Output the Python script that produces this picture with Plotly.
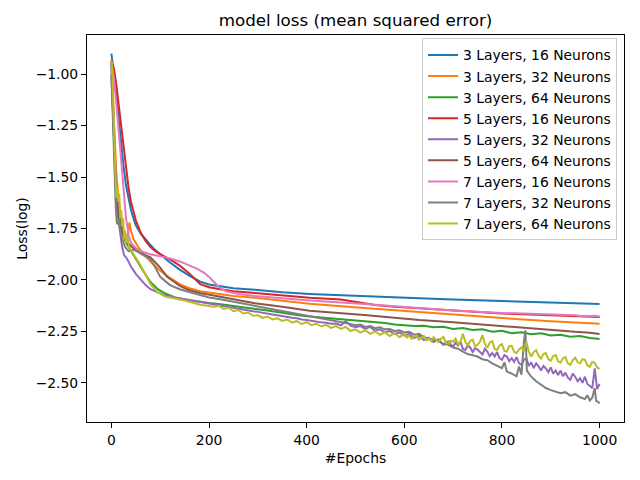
import plotly.graph_objects as go

# ---------------- data ----------------
names = ["3 Layers, 16 Neurons", "3 Layers, 32 Neurons", "3 Layers, 64 Neurons",
         "5 Layers, 16 Neurons", "5 Layers, 32 Neurons", "5 Layers, 64 Neurons",
         "7 Layers, 16 Neurons", "7 Layers, 32 Neurons", "7 Layers, 64 Neurons"]
colors = ["#1f77b4", "#ff7f0e", "#2ca02c", "#d62728", "#9467bd",
          "#8c564b", "#e377c2", "#7f7f7f", "#bcbd22"]

ep_l3n16 = [0, 5, 10, 15, 20, 25, 30, 35, 40, 45, 50, 60, 70, 80, 90, 100, 120, 140, 160,
            182, 200, 223, 250, 294, 350, 406, 518, 631, 700, 800, 900, 1000]
loss_l3n16 = [-0.90, -0.99, -1.10, -1.22, -1.34, -1.45, -1.54, -1.61, -1.66, -1.70, -1.735,
              -1.775, -1.805, -1.83, -1.855, -1.875, -1.915, -1.95, -1.98, -2.008, -2.022,
              -2.03, -2.04, -2.048, -2.06, -2.068, -2.08, -2.089, -2.095, -2.103, -2.11, -2.117]

ep_l3n32 = [0, 3, 6, 10, 15, 20, 25, 30, 34, 37, 40, 45, 55, 65, 80, 100, 120, 140, 160, 182,
            208, 250, 294, 350, 406, 518, 631, 700, 800, 900, 1000]
loss_l3n32 = [-0.93, -1.08, -1.28, -1.48, -1.62, -1.70, -1.76, -1.79, -1.78, -1.72, -1.76,
              -1.80, -1.84, -1.87, -1.91, -1.955, -1.99, -2.02, -2.04, -2.055, -2.065, -2.078,
              -2.087, -2.10, -2.115, -2.136, -2.157, -2.17, -2.185, -2.20, -2.213]

ep_l3n64 = [0, 3, 6, 9, 11, 13, 15, 17, 20, 24, 30, 40, 50, 60, 70, 80, 95, 110, 130, 150,
            182, 200, 220, 240, 260, 280, 300, 320, 340, 360, 380, 400, 420, 440, 460, 480,
            500, 520, 540, 560, 580, 600, 620, 640, 660, 680, 700, 720, 740, 760, 780, 800,
            820, 840, 860, 880, 900, 920, 940, 960, 980, 1000]
loss_l3n64 = [-0.94, -1.15, -1.40, -1.62, -1.72, -1.73, -1.68, -1.66, -1.72, -1.78, -1.82,
              -1.86, -1.90, -1.94, -1.975, -2.01, -2.045, -2.065, -2.085, -2.095, -2.107,
              -2.112, -2.117, -2.124, -2.128, -2.136, -2.142, -2.148, -2.156, -2.161, -2.170,
              -2.176, -2.180, -2.186, -2.189, -2.194, -2.198, -2.201, -2.206, -2.209, -2.216,
              -2.219, -2.224, -2.222, -2.230, -2.227, -2.238, -2.233, -2.243, -2.240, -2.252,
              -2.247, -2.259, -2.254, -2.264, -2.259, -2.270, -2.266, -2.276, -2.272, -2.282,
              -2.287]

ep_l5n16 = [0, 5, 10, 15, 20, 25, 30, 35, 40, 45, 50, 60, 70, 80, 90, 100, 120, 140, 160,
            182, 200, 223, 250, 294, 350, 406, 470, 500, 540, 580, 631, 700, 800, 900, 1000]
loss_l5n16 = [-0.94, -0.97, -1.05, -1.15, -1.27, -1.38, -1.47, -1.55, -1.62, -1.67, -1.71,
              -1.77, -1.81, -1.84, -1.86, -1.875, -1.90, -1.93, -1.97, -2.02, -2.035, -2.045,
              -2.055, -2.063, -2.075, -2.087, -2.095, -2.105, -2.122, -2.13, -2.137, -2.15,
              -2.163, -2.172, -2.18]

ep_l5n32 = ([0, 3, 6, 9, 12, 15, 18, 22, 26, 30, 35, 40, 50, 60, 70, 80, 95, 110, 130, 160,
             182] + list(range(200, 700, 10)) + list(range(700, 1001, 5)))
loss_l5n32 = [-0.95, -1.15, -1.40, -1.60, -1.70, -1.72, -1.78, -1.84, -1.88, -1.89, -1.91,
              -1.935, -1.97, -2.00, -2.025, -2.045, -2.06, -2.075, -2.085, -2.098, -2.108,
              # 200 .. 690 (every 10)
              -2.115, -2.118, -2.123, -2.126, -2.131, -2.134, -2.140, -2.143, -2.147, -2.152,
              -2.155, -2.160, -2.162, -2.168, -2.171, -2.176, -2.178, -2.184, -2.186, -2.192,
              -2.194, -2.199, -2.201, -2.206, -2.208, -2.213, -2.212, -2.220, -2.200, -2.222,
              -2.230, -2.224, -2.238, -2.228, -2.246, -2.240, -2.254, -2.248, -2.262, -2.255,
              -2.270, -2.262, -2.282, -2.270, -2.292, -2.280, -2.302, -2.288, -2.315, -2.298,
              # 700 .. 1000 (every 5)
              -2.325, -2.305, -2.318, -2.300, -2.335, -2.340, -2.318, -2.328, -2.350, -2.332,
              -2.338, -2.352, -2.362, -2.335, -2.348, -2.370, -2.355, -2.372, -2.350, -2.380,
              -2.388, -2.365, -2.372, -2.395, -2.380, -2.398, -2.375, -2.405, -2.412, -2.388,
              -2.380, -2.418, -2.400, -2.428, -2.405, -2.420, -2.440, -2.418, -2.430, -2.448,
              -2.425, -2.455, -2.440, -2.462, -2.440, -2.468, -2.450, -2.475, -2.485, -2.455,
              -2.470, -2.492, -2.478, -2.500, -2.470, -2.505, -2.515, -2.525, -2.430, -2.530,
              -2.505]

ep_l5n64 = [0, 3, 6, 10, 15, 20, 25, 30, 40, 50, 60, 80, 100, 114, 141, 160, 182, 208, 250,
            294, 350, 406, 518, 631, 700, 800, 850, 870, 900, 950, 980, 1000]
loss_l5n64 = [-1.01, -1.20, -1.40, -1.56, -1.68, -1.75, -1.79, -1.81, -1.835, -1.855, -1.87,
              -1.89, -1.94, -1.985, -2.03, -2.05, -2.063, -2.075, -2.095, -2.113, -2.13,
              -2.15, -2.17, -2.194, -2.205, -2.225, -2.232, -2.238, -2.242, -2.252, -2.256,
              -2.263]

ep_l7n16 = [0, 5, 10, 15, 20, 25, 30, 35, 40, 50, 60, 80, 100, 120, 140, 160, 175, 190, 200,
            210, 223, 235, 260, 294, 350, 406, 518, 631, 700, 800, 900, 950, 970, 990, 1000]
loss_l7n16 = [-0.94, -1.02, -1.14, -1.27, -1.40, -1.55, -1.70, -1.78, -1.82, -1.845, -1.86,
              -1.875, -1.885, -1.895, -1.91, -1.93, -1.945, -1.965, -1.985, -2.01, -2.04,
              -2.055, -2.068, -2.078, -2.09, -2.10, -2.117, -2.137, -2.148, -2.16, -2.17,
              -2.172, -2.178, -2.174, -2.178]

ep_l7n32 = [0, 3, 6, 9, 12, 15, 18, 22, 28, 35, 42, 48, 55, 65, 80, 90, 100, 120, 140, 161,
            182, 200, 220, 243, 260, 280, 300, 320, 340, 360, 380, 400, 420, 440, 460, 480,
            500, 510, 520, 530, 540, 550, 560, 570, 580, 590, 600, 610, 620, 630, 640, 650,
            660, 670, 680, 690, 700, 710, 720, 730, 740, 750, 760, 770, 780, 790, 800, 805,
            810, 820, 830, 835, 840, 845, 848, 851, 855, 860, 870, 880, 890, 900, 910, 920,
            930, 940, 950, 960, 970, 975, 980, 985, 990, 993, 997, 1000]
loss_l7n32 = [-1.00, -1.20, -1.45, -1.65, -1.72, -1.70, -1.76, -1.80, -1.84, -1.86, -1.855,
              -1.855, -1.865, -1.88, -1.90, -1.94, -1.985, -2.025, -2.045, -2.06, -2.075,
              -2.085, -2.093, -2.103, -2.112, -2.120, -2.130, -2.138, -2.147, -2.156, -2.164,
              -2.175, -2.183, -2.191, -2.200, -2.209, -2.220, -2.216, -2.228, -2.224, -2.234,
              -2.230, -2.240, -2.238, -2.248, -2.245, -2.255, -2.252, -2.266, -2.262, -2.278,
              -2.285, -2.292, -2.298, -2.310, -2.315, -2.328, -2.334, -2.348, -2.360, -2.366,
              -2.372, -2.385, -2.390, -2.405, -2.415, -2.428, -2.400, -2.445, -2.455, -2.468,
              -2.420, -2.460, -2.300, -2.245, -2.440, -2.455, -2.470, -2.492, -2.510, -2.525,
              -2.535, -2.542, -2.550, -2.545, -2.562, -2.555, -2.570, -2.578, -2.560, -2.585,
              -2.572, -2.525, -2.588, -2.592, -2.600]

ep_l7n64 = ([0, 2, 4, 6, 8, 10, 12, 14, 16, 18, 20, 22, 24, 26, 28, 30, 33, 36, 40, 50, 60,
             70, 80, 95, 110, 130, 150, 182] + list(range(200, 600, 10))
            + list(range(600, 1001, 5)))
loss_l7n64 = [-0.94, -1.00, -1.15, -1.35, -1.50, -1.60, -1.55, -1.62, -1.58, -1.70, -1.66,
              -1.74, -1.70, -1.80, -1.76, -1.82, -1.79, -1.84, -1.855, -1.89, -1.93, -1.975,
              -2.02, -2.06, -2.08, -2.09, -2.10, -2.12,
              # 200 .. 590 (every 10)
              -2.125, -2.130, -2.126, -2.141, -2.135, -2.152, -2.146, -2.163, -2.158, -2.174,
              -2.172, -2.184, -2.178, -2.192, -2.186, -2.199, -2.192, -2.207, -2.200, -2.214,
              -2.205, -2.220, -2.212, -2.226, -2.218, -2.233, -2.224, -2.238, -2.228, -2.248,
              -2.240, -2.256, -2.244, -2.262, -2.250, -2.266, -2.254, -2.272, -2.258, -2.278,
              # 600 .. 1000 (every 5)
              -2.262, -2.280, -2.270, -2.286, -2.275, -2.268, -2.290, -2.280, -2.272, -2.294,
              -2.285, -2.298, -2.278, -2.292, -2.302, -2.285, -2.276, -2.305, -2.310, -2.295,
              -2.300, -2.285, -2.312, -2.300, -2.262, -2.300, -2.318, -2.295, -2.290, -2.322,
              -2.315, -2.300, -2.268, -2.310, -2.330, -2.305, -2.298, -2.335, -2.340, -2.318,
              -2.312, -2.345, -2.348, -2.322, -2.320, -2.350, -2.355, -2.338, -2.328, -2.345,
              -2.300, -2.348, -2.372, -2.350, -2.342, -2.368, -2.382, -2.360, -2.355, -2.385,
              -2.392, -2.370, -2.365, -2.395, -2.402, -2.380, -2.375, -2.405, -2.412, -2.390,
              -2.378, -2.400, -2.405, -2.385, -2.388, -2.415, -2.422, -2.398, -2.402, -2.425,
              -2.432]

series = [(ep_l3n16, loss_l3n16), (ep_l3n32, loss_l3n32), (ep_l3n64, loss_l3n64),
          (ep_l5n16, loss_l5n16), (ep_l5n32, loss_l5n32), (ep_l5n64, loss_l5n64),
          (ep_l7n16, loss_l7n16), (ep_l7n32, loss_l7n32), (ep_l7n64, loss_l7n64)]

y_ticks = [-1.00, -1.25, -1.50, -1.75, -2.00, -2.25, -2.50]
x_ticks = [0, 200, 400, 600, 800, 1000]

# ---------------- figure ----------------
FONT = "DejaVu Sans, sans-serif"
fig = go.Figure()
for i, (name, col, (ep, ls)) in enumerate(zip(names, colors, series)):
    fig.add_trace(go.Scatter(x=ep, y=ls, mode="lines", name=name,
                             legendgroup=f"g{i}",
                             line=dict(color=col, width=2)))

axis_common = dict(showline=True, mirror=True, linecolor="black", linewidth=1,
                   ticks="outside", ticklen=5, tickwidth=1, tickcolor="black",
                   showgrid=False, zeroline=False,
                   tickfont=dict(family=FONT, size=13.9, color="black"))

fig.update_layout(
    width=640, height=480,
    paper_bgcolor="white", plot_bgcolor="white",
    margin=dict(l=87, r=16, t=35, b=58),
    font=dict(family=FONT, color="black"),
    title=dict(text="model loss (mean squared error)", x=0.5, xref="paper",
               y=1 - 20 / 480, yref="container", yanchor="middle",
               font=dict(family=FONT, size=16.7, color="black")),
    xaxis=dict(range=[-50, 1050], tickvals=x_ticks, ticktext=[str(t) for t in x_ticks],
               title=dict(text="#Epochs", standoff=6,
                          font=dict(family=FONT, size=13.9, color="black")),
               **axis_common),
    yaxis=dict(range=[-2.69, -0.81], tickvals=y_ticks,
               ticktext=[f"\u2212{abs(t):.2f}" for t in y_ticks],
               title=dict(text="Loss(log)", standoff=4,
                          font=dict(family=FONT, size=13.9, color="black")),
               **axis_common),
    legend=dict(x=0.987, y=0.991, xanchor="right", yanchor="top",
                bgcolor="rgba(255,255,255,0.8)", bordercolor="#cccccc", borderwidth=1,
                font=dict(family=FONT, size=13.9, color="black"),
                tracegroupgap=0, itemwidth=30),
    showlegend=True,
)

fig.write_html("out.html", config={"displayModeBar": False},
               post_script="document.body.style.margin='0';")
